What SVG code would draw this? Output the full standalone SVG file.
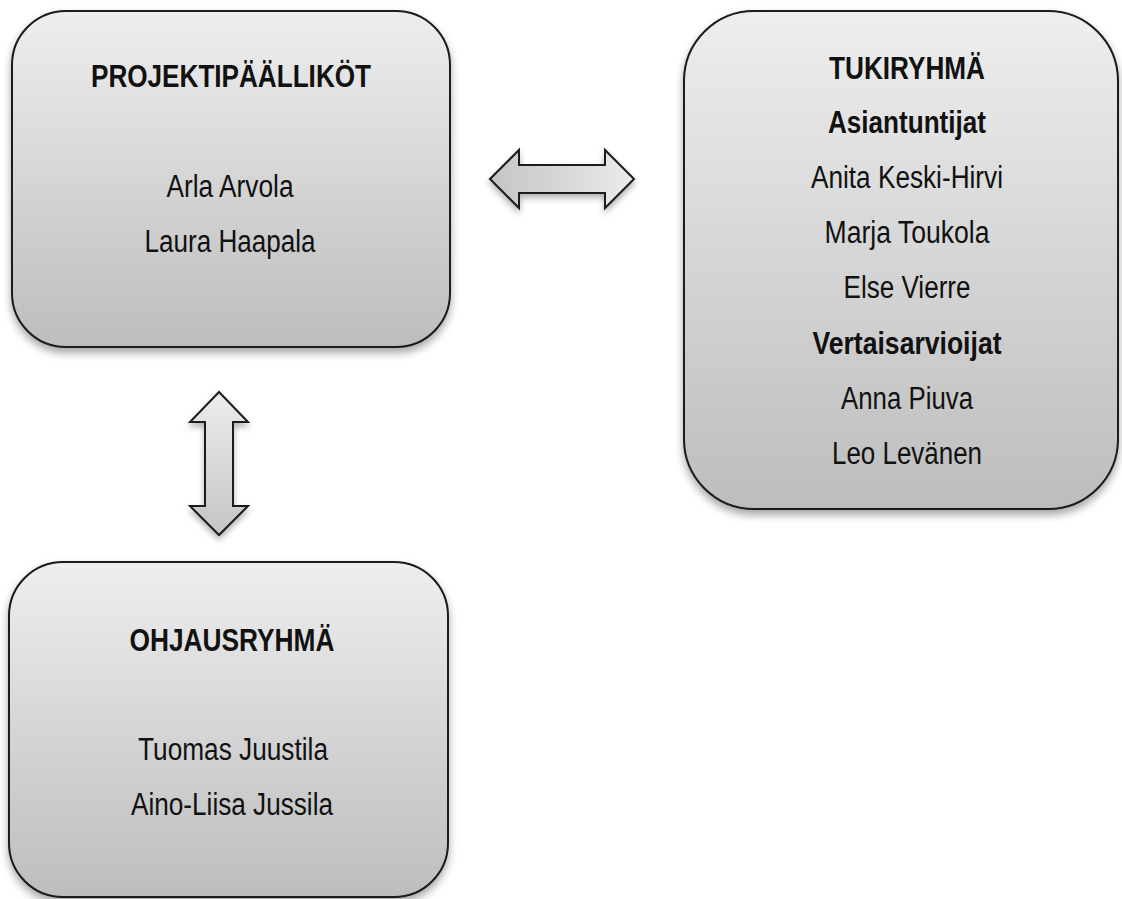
<svg xmlns="http://www.w3.org/2000/svg" width="1122" height="899" viewBox="0 0 1122 899">
<style>
.box{stroke:#1a1a1a;stroke-width:2;fill:url(#boxg);filter:url(#sh)}
.arr{stroke:#1a1a1a;stroke-width:2;stroke-linejoin:miter;filter:url(#sh2)}
text{font-family:"Liberation Sans",Arial,sans-serif;font-size:31px;fill:#111;text-anchor:middle}
.b{font-weight:bold}
</style>
<defs>
<linearGradient id="boxg" x1="0" y1="0" x2="0" y2="1">
<stop offset="0" stop-color="#eeeeee"/>
<stop offset="1" stop-color="#bdbdbd"/>
</linearGradient>
<linearGradient id="hg" x1="0" y1="0" x2="1" y2="0">
<stop offset="0" stop-color="#c4c4c4"/>
<stop offset="1" stop-color="#ececec"/>
</linearGradient>
<linearGradient id="vg" x1="0" y1="0" x2="0" y2="1">
<stop offset="0" stop-color="#ececec"/>
<stop offset="1" stop-color="#c4c4c4"/>
</linearGradient>
<filter id="sh" x="-10%" y="-10%" width="120%" height="125%">
<feDropShadow dx="0" dy="5" stdDeviation="4" flood-color="#000" flood-opacity="0.35"/>
</filter>
<filter id="sh2" x="-20%" y="-20%" width="140%" height="150%">
<feDropShadow dx="0" dy="4" stdDeviation="3" flood-color="#000" flood-opacity="0.3"/>
</filter>
</defs>
<g id="projektipaallikot">
<rect class="box" x="12" y="11" width="438" height="336" rx="54" ry="54"/>
<text class="b" x="231" y="87" textLength="280" lengthAdjust="spacingAndGlyphs">PROJEKTIPÄÄLLIKÖT</text>
<text x="230" y="197" textLength="127" lengthAdjust="spacingAndGlyphs">Arla Arvola</text>
<text x="230" y="252" textLength="171" lengthAdjust="spacingAndGlyphs">Laura Haapala</text>
</g>
<g id="tukiryhma">
<rect class="box" x="684" y="11" width="434" height="498" rx="70" ry="70"/>
<text class="b" x="907" y="79" textLength="156" lengthAdjust="spacingAndGlyphs">TUKIRYHMÄ</text>
<text class="b" x="907" y="133" textLength="158" lengthAdjust="spacingAndGlyphs">Asiantuntijat</text>
<text x="907" y="188" textLength="192" lengthAdjust="spacingAndGlyphs">Anita Keski-Hirvi</text>
<text x="907" y="243" textLength="165" lengthAdjust="spacingAndGlyphs">Marja Toukola</text>
<text x="907" y="298" textLength="127" lengthAdjust="spacingAndGlyphs">Else Vierre</text>
<text class="b" x="907" y="354" textLength="189" lengthAdjust="spacingAndGlyphs">Vertaisarvioijat</text>
<text x="907" y="409" textLength="132" lengthAdjust="spacingAndGlyphs">Anna Piuva</text>
<text x="907" y="464" textLength="150" lengthAdjust="spacingAndGlyphs">Leo Levänen</text>
</g>
<g id="ohjausryhma">
<rect class="box" x="9" y="562" width="439" height="335" rx="54" ry="54"/>
<text class="b" x="232" y="651" textLength="205" lengthAdjust="spacingAndGlyphs">OHJAUSRYHMÄ</text>
<text x="233" y="760" textLength="190" lengthAdjust="spacingAndGlyphs">Tuomas Juustila</text>
<text x="232" y="815" textLength="202" lengthAdjust="spacingAndGlyphs">Aino-Liisa Jussila</text>
</g>
<g id="connectors">
<path class="arr" fill="url(#hg)" d="M490,179 L519,150 L519,165 L605,165 L605,150 L634,179 L605,208 L605,193 L519,193 L519,208 Z"/>
<path class="arr" fill="url(#vg)" d="M219,392 L248,422 L233,422 L233,506 L248,506 L219,535 L190,506 L205,506 L205,422 L190,422 Z"/>
</g>
</svg>
